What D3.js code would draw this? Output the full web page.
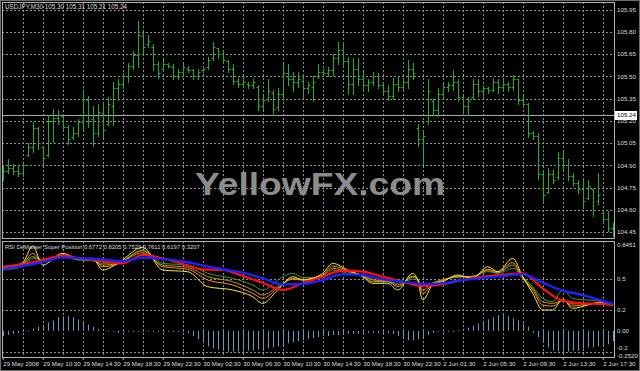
<!DOCTYPE html>
<html>
<head>
<meta charset="UTF-8">
<title>USDJPY,M30</title>
<style>
  body { margin: 0; padding: 0; background: #000; }
  svg { display: block; }
  text { font-family: "Liberation Sans", Arial, sans-serif; }
</style>
</head>
<body>
<script src="https://d3js.org/d3.v7.min.js"></script>
<script>
var width = 640, height = 371;

// ---- price bars (M30) ----
var opens = [104.82,104.86,104.88,104.86,104.85,104.97,105.02,105.15,105.02,104.97,105.20,105.22,105.23,105.16,105.09,105.12,105.19,105.34,105.21,105.12,105.25,105.18,105.30,105.42,105.45,105.50,105.57,105.64,105.77,105.72,105.70,105.58,105.55,105.58,105.56,105.50,105.53,105.55,105.54,105.50,105.54,105.56,105.62,105.69,105.65,105.60,105.55,105.47,105.45,105.45,105.44,105.43,105.30,105.35,105.39,105.29,105.38,105.52,105.48,105.46,105.47,105.42,105.43,105.50,
  105.53,105.52,105.54,105.62,105.68,105.60,105.45,105.55,105.48,105.44,105.46,105.50,105.44,105.40,105.37,105.45,105.43,105.46,105.55,105.15,105.08,105.20,105.33,105.27,105.38,105.43,105.44,105.46,105.36,105.30,105.36,105.45,105.40,105.42,105.41,105.46,105.43,105.45,105.43,105.48,105.34,105.31,105.12,105.10,104.84,104.72,104.84,104.82,104.95,104.90,104.83,104.78,104.74,104.68,104.74,104.66,104.58,104.54,104.48];
var highs = [104.90,104.94,104.91,104.90,104.91,105.05,105.19,105.16,105.03,105.24,105.28,105.27,105.24,105.17,105.16,105.21,105.40,105.37,105.30,105.31,105.32,105.36,105.46,105.48,105.52,105.59,105.67,105.87,105.80,105.78,105.72,105.60,105.61,105.59,105.58,105.55,105.58,105.57,105.55,105.55,105.56,105.63,105.73,105.69,105.67,105.61,105.58,105.49,105.50,105.46,105.48,105.44,105.37,105.48,105.41,105.42,105.58,105.58,105.53,105.53,105.51,105.46,105.50,105.58,
  105.55,105.56,105.65,105.73,105.73,105.63,105.62,105.62,105.53,105.48,105.53,105.52,105.46,105.44,105.49,105.50,105.48,105.61,105.59,105.18,105.13,105.48,105.35,105.42,105.45,105.46,105.54,105.48,105.37,105.36,105.48,105.48,105.44,105.43,105.49,105.48,105.48,105.46,105.51,105.48,105.37,105.32,105.13,105.12,104.87,104.88,104.87,104.99,104.99,104.94,104.85,104.80,104.80,104.80,104.74,104.85,104.60,104.59,104.51];
var lows = [104.80,104.85,104.84,104.83,104.83,104.96,104.99,105.01,104.91,104.96,105.06,105.18,105.14,105.04,105.08,105.10,105.14,105.16,105.03,105.10,105.09,105.17,105.17,105.34,105.42,105.46,105.55,105.56,105.64,105.70,105.54,105.49,105.54,105.56,105.48,105.48,105.51,105.53,105.48,105.48,105.53,105.55,105.61,105.62,105.59,105.53,105.45,105.43,105.44,105.42,105.42,105.27,105.27,105.33,105.24,105.27,105.34,105.44,105.40,105.43,105.36,105.39,105.33,105.49,
  105.50,105.50,105.51,105.58,105.56,105.38,105.38,105.44,105.40,105.40,105.44,105.42,105.38,105.34,105.35,105.40,105.41,105.42,105.48,105.03,104.91,105.18,105.24,105.23,105.36,105.40,105.41,105.33,105.24,105.24,105.35,105.37,105.36,105.39,105.40,105.39,105.40,105.40,105.41,105.31,105.29,105.09,105.08,104.81,104.65,104.71,104.78,104.81,104.87,104.80,104.76,104.71,104.61,104.67,104.56,104.64,104.52,104.46,104.42];
var closes = [104.86,104.88,104.86,104.85,104.90,105.02,105.15,105.05,104.95,105.20,105.22,105.24,105.16,105.08,105.12,105.19,105.35,105.20,105.12,105.26,105.14,105.31,105.42,105.45,105.50,105.57,105.64,105.78,105.70,105.74,105.58,105.52,105.58,105.57,105.50,105.53,105.56,105.54,105.50,105.53,105.55,105.61,105.70,105.65,105.61,105.55,105.47,105.45,105.46,105.44,105.46,105.30,105.34,105.40,105.28,105.38,105.52,105.48,105.46,105.48,105.42,105.44,105.46,105.53,
  105.52,105.54,105.62,105.68,105.60,105.45,105.55,105.48,105.44,105.46,105.50,105.44,105.40,105.37,105.45,105.43,105.46,105.55,105.52,105.08,105.10,105.40,105.27,105.38,105.43,105.44,105.46,105.36,105.30,105.33,105.45,105.40,105.42,105.41,105.46,105.43,105.45,105.43,105.48,105.34,105.31,105.12,105.10,104.84,104.70,104.84,104.80,104.95,104.90,104.83,104.78,104.74,104.66,104.76,104.60,104.70,104.54,104.48,104.45];

var lastPrice = 105.24;
var priceTicks = [105.95,105.80,105.65,105.50,105.35,105.20,105.05,104.90,104.75,104.60,104.45];

// ---- time axis ----
var timeIdx = [0,8,16,24,32,40,48,56,64,72,80,88,96,104,112,120];
var timeLabels = ["29 May 2008","29 May 10:30","29 May 14:30","29 May 18:30","29 May 22:30","30 May 02:30","30 May 06:30","30 May 10:30",
  "30 May 14:30","30 May 18:30","30 May 22:30","2 Jun 01:30","2 Jun 05:30","2 Jun 09:30","2 Jun 13:30","2 Jun 17:30"];

// ---- indicator: RSI DeMarker Super Position ----
var smoothIdx = [0,4,8,12,16,20,24,28,32,36,40,44,48,52,56,60,64,68,72,76,80,84,88,92,96,100,104,108,112,116,120,122];
var blueVals = [0.592,0.624,0.662,0.707,0.697,0.688,0.669,0.705,0.690,0.669,0.630,0.592,0.560,0.505,0.447,0.450,0.489,0.543,0.537,0.495,0.473,0.450,0.457,0.489,0.508,0.527,0.543,0.463,0.386,0.344,0.287,0.258];
var redVals = [0.617,0.643,0.681,0.723,0.691,0.669,0.649,0.730,0.697,0.643,0.592,0.585,0.527,0.463,0.393,0.457,0.521,0.579,0.569,0.521,0.473,0.431,0.447,0.489,0.521,0.540,0.553,0.409,0.290,0.264,0.258,0.245];

var fastIdx = [0,4,6,8,12,15,18,20,23,28,32,37,41,46,50,52,55,58,60,64,66,69,72,74,77,79,82,83,84,86,88,91,94,97,99,102,104,106,108,110,112,114,117,120,122];
var yellowVals = [0.601,0.656,0.816,0.633,0.746,0.697,0.697,0.585,0.649,0.803,0.585,0.569,0.425,0.393,0.328,0.264,0.393,0.521,0.489,0.553,0.649,0.585,0.521,0.457,0.457,0.393,0.553,0.489,0.296,0.441,0.473,0.537,0.505,0.617,0.569,0.697,0.521,0.361,0.200,0.200,0.303,0.216,0.248,0.280,0.248];
var orangeVals = [0.601,0.643,0.746,0.665,0.730,0.697,0.688,0.617,0.643,0.771,0.617,0.592,0.489,0.441,0.361,0.312,0.409,0.505,0.495,0.537,0.624,0.579,0.527,0.473,0.473,0.425,0.527,0.495,0.361,0.450,0.482,0.527,0.514,0.592,0.569,0.656,0.514,0.393,0.248,0.238,0.296,0.238,0.258,0.271,0.245];
var goldVals = [0.592,0.633,0.714,0.675,0.720,0.688,0.681,0.633,0.649,0.752,0.633,0.611,0.521,0.473,0.393,0.344,0.425,0.495,0.489,0.527,0.601,0.569,0.534,0.489,0.482,0.441,0.514,0.495,0.393,0.457,0.489,0.521,0.521,0.579,0.560,0.633,0.505,0.409,0.280,0.264,0.290,0.258,0.264,0.264,0.245];
var greenVals = [0.585,0.617,0.697,0.688,0.714,0.681,0.675,0.649,0.656,0.778,0.649,0.633,0.553,0.505,0.441,0.393,0.489,0.553,0.514,0.514,0.585,0.553,0.527,0.495,0.473,0.457,0.495,0.489,0.425,0.463,0.495,0.514,0.527,0.569,0.553,0.601,0.521,0.425,0.312,0.280,0.393,0.312,0.296,0.290,0.248];

var histVals = [-0.05,-0.04,-0.03,-0.02,-0.01,0,0.02,0.04,0.06,0.08,0.10,0.13,0.14,0.14,0.13,0.11,0.09,0.06,0.04,0.02,0.01,0,0,-0.02,-0.01,-0.01,0,0,0,0,0,-0.01,-0.01,-0.01,-0.01,-0.01,-0.01,-0.02,-0.05,-0.08,-0.12,-0.15,-0.17,-0.18,-0.19,-0.20,-0.20,-0.20,-0.20,-0.19,-0.19,-0.18,-0.18,-0.17,-0.16,-0.15,-0.14,-0.12,-0.11,-0.10,-0.09,-0.08,-0.07,-0.06,
  -0.05,-0.05,-0.04,-0.04,-0.03,-0.03,-0.03,-0.03,-0.02,-0.02,-0.02,-0.02,-0.02,-0.02,-0.03,-0.05,-0.07,-0.09,-0.09,-0.08,-0.06,-0.04,-0.02,0,0,0,0,0.01,0.02,0.03,0.05,0.07,0.09,0.11,0.13,0.15,0.15,0.14,0.12,0.10,0.07,0.04,-0.02,-0.06,-0.11,-0.16,-0.19,-0.20,-0.20,-0.20,-0.19,-0.19,-0.17,-0.16,-0.16,-0.15,-0.14,-0.13,-0.10];

var indLevels = [0.5, 0.2, -0.2];
var indLabels = ["0.8451", "0.5", "0.2", "0.00", "-0.2", "-0.2520"];
var indLabelVals = [0.8451, 0.5, 0.2, 0.0, -0.2, -0.2520];

// ---- layout ----
var left = 2, right = 614;
var mainTop = 2, mainBottom = 238;
var indTop = 241, indBottom = 357;

var x = d3.scaleLinear().domain([0, 122]).range([2.7, 612.7]);
var y = d3.scaleLinear().domain([104.45, 105.95]).range([232, 9.5]);
var yi = d3.scaleLinear().domain([-0.2520, 0.8451]).range([357, 243]);

var gridColor = "#8f8f8f", textColor = "#dcdcdc";

var svg = d3.select("body").append("svg")
    .attr("width", width)
    .attr("height", height);

svg.append("rect").attr("width", width).attr("height", height).attr("fill", "#000");

svg.append("clipPath").attr("id", "clip-main")
  .append("rect").attr("x", left).attr("y", mainTop).attr("width", right - left).attr("height", mainBottom - mainTop);
svg.append("clipPath").attr("id", "clip-ind")
  .append("rect").attr("x", left).attr("y", indTop).attr("width", right - left).attr("height", indBottom - indTop);

// grid
var grid = svg.append("g")
    .attr("stroke", gridColor)
    .attr("stroke-width", 1)
    .attr("stroke-dasharray", "2,2");

grid.selectAll(".hgrid").data(priceTicks).enter().append("line")
    .attr("x1", left).attr("x2", right)
    .attr("y1", function (d) { return Math.round(y(d)) + 0.5; })
    .attr("y2", function (d) { return Math.round(y(d)) + 0.5; });

grid.selectAll(".igrid").data(indLevels).enter().append("line")
    .attr("x1", left).attr("x2", right)
    .attr("y1", function (d) { return Math.round(yi(d)) + 0.5; })
    .attr("y2", function (d) { return Math.round(yi(d)) + 0.5; });

var vgridIdx = [];
for (var k = 4; k <= 120; k += 4) vgridIdx.push(k);

grid.selectAll(".vgrid").data(vgridIdx).enter().append("line")
    .attr("x1", function (d) { return Math.round(x(d)) + 0.5; })
    .attr("x2", function (d) { return Math.round(x(d)) + 0.5; })
    .attr("y1", mainTop).attr("y2", mainBottom);

grid.selectAll(".vgrid2").data(vgridIdx).enter().append("line")
    .attr("x1", function (d) { return Math.round(x(d)) + 0.5; })
    .attr("x2", function (d) { return Math.round(x(d)) + 0.5; })
    .attr("y1", indTop).attr("y2", indBottom);

// current price line
svg.append("line")
    .attr("x1", left).attr("x2", right)
    .attr("y1", Math.round(y(lastPrice)) + 0.5).attr("y2", Math.round(y(lastPrice)) + 0.5)
    .attr("stroke", "#a8a8a8").attr("stroke-width", 1);

// watermark
svg.append("text")
    .attr("x", 195).attr("y", 195)
    .attr("textLength", 250).attr("lengthAdjust", "spacingAndGlyphs")
    .attr("font-family", "DejaVu Sans")
    .attr("font-weight", "bold")
    .attr("font-size", 32)
    .attr("fill", "#8c8c8c")
    .text("YellowFX.com");

// OHLC bars
var bars = svg.append("g").attr("clip-path", "url(#clip-main)")
    .attr("stroke", "#22b022").attr("stroke-width", 1).attr("fill", "none");

bars.selectAll("path").data(d3.range(highs.length)).enter().append("path")
    .attr("d", function (i) {
        var xx = Math.round(x(i)) + 0.5;
        var yo = Math.round(y(opens[i])) + 0.5, yc = Math.round(y(closes[i])) + 0.5;
        return "M" + xx + "," + Math.round(y(highs[i])) + "V" + (Math.round(y(lows[i])) + 1) +
            "M" + (xx - 2) + "," + yo + "H" + xx +
            "M" + xx + "," + yc + "H" + (xx + 2);
    });

// indicator histogram
var ind = svg.append("g").attr("clip-path", "url(#clip-ind)");

ind.append("g").attr("stroke", "#7396bd").attr("stroke-width", 1)
  .selectAll("line").data(histVals).enter().append("line")
    .attr("x1", function (d, i) { return Math.round(x(i)) + 0.5; })
    .attr("x2", function (d, i) { return Math.round(x(i)) + 0.5; })
    .attr("y1", yi(0))
    .attr("y2", function (d) { return d === 0 ? yi(0) + 1 : yi(d); });

function drawLine(idx, vals, color, w) {
    var line = d3.line()
        .x(function (d, i) { return x(idx[i]); })
        .y(function (d) { return yi(d); })
        .curve(d3.curveMonotoneX);
    ind.append("path").datum(vals)
        .attr("d", line)
        .attr("fill", "none")
        .attr("stroke", color)
        .attr("stroke-width", w)
        .attr("stroke-linejoin", "round");
}

drawLine(fastIdx, greenVals, "#3d9a3d", 1);
drawLine(fastIdx, goldVals, "#c89a10", 1);
drawLine(fastIdx, orangeVals, "#ff9410", 1);
drawLine(fastIdx, yellowVals, "#f2f230", 1);
drawLine(smoothIdx, redVals, "#ff1010", 2.2);
drawLine(smoothIdx, blueVals, "#1c22ff", 2.4);

// panel frames
svg.append("rect").attr("x", left + 0.5).attr("y", mainTop + 0.5)
    .attr("width", right - left).attr("height", mainBottom - mainTop)
    .attr("fill", "none").attr("stroke", "#b4b4b4");
svg.append("rect").attr("x", left + 0.5).attr("y", indTop + 0.5)
    .attr("width", right - left).attr("height", indBottom - indTop)
    .attr("fill", "none").attr("stroke", "#b4b4b4");
svg.append("rect").attr("x", 0.5).attr("y", 0.5)
    .attr("width", width - 1).attr("height", height - 1)
    .attr("fill", "none").attr("stroke", "#6e6e6e");

// price axis
var yAxis = d3.axisRight(y).tickValues(priceTicks).tickSize(0).tickPadding(0)
    .tickFormat(d3.format(".2f"));
var ya = svg.append("g").attr("transform", "translate(617,0)").call(yAxis);
ya.select(".domain").remove();
ya.selectAll("text").attr("fill", textColor).attr("font-size", 6.2)
    .attr("font-family", "Liberation Sans, Arial, sans-serif");

// current price box
svg.append("rect")
    .attr("x", 615).attr("y", Math.round(y(lastPrice)) - 4)
    .attr("width", 22).attr("height", 9)
    .attr("fill", "#ffffff");
svg.append("text")
    .attr("x", 617).attr("y", y(lastPrice)).attr("dy", "0.35em")
    .attr("font-size", 6.2).attr("fill", "#000")
    .text(d3.format(".2f")(lastPrice));

// indicator labels
svg.append("g").selectAll("text").data(indLabels).enter().append("text")
    .attr("x", 617)
    .attr("y", function (d, i) {
        var v = indLabelVals[i];
        var p = yi(v);
        if (v === 0.8451) p = 245;
        if (v === -0.2) p = 348;
        if (v === -0.2520) p = 355.5;
        return p;
    })
    .attr("dy", "0.35em")
    .attr("font-size", 6.2)
    .attr("fill", textColor)
    .text(function (d) { return d; });

// time axis
var xAxis = d3.axisBottom(x).tickValues(timeIdx).tickSize(3).tickPadding(2)
    .tickFormat(function (d, i) { return timeLabels[i]; });
var xa = svg.append("g").attr("transform", "translate(0," + indBottom + ")").call(xAxis);
xa.select(".domain").remove();
xa.selectAll("line").attr("stroke", "#b4b4b4");
xa.selectAll("text").attr("fill", textColor).attr("font-size", 6.2)
    .attr("text-anchor", "start")
    .attr("font-family", "Liberation Sans, Arial, sans-serif");

// titles
svg.append("text").attr("x", 5).attr("y", 9)
    .attr("font-size", 6.3).attr("fill", textColor)
    .text("USDJPY,M30  105.30 105.31 105.21 105.24");

svg.append("text").attr("x", 5).attr("y", 249)
    .attr("font-size", 5.9).attr("fill", textColor)
    .text("RSI DeMarker Super Position 0.6772 0.8205 0.7529 0.7611 0.6197 0.3207");
</script>
</body>
</html>
